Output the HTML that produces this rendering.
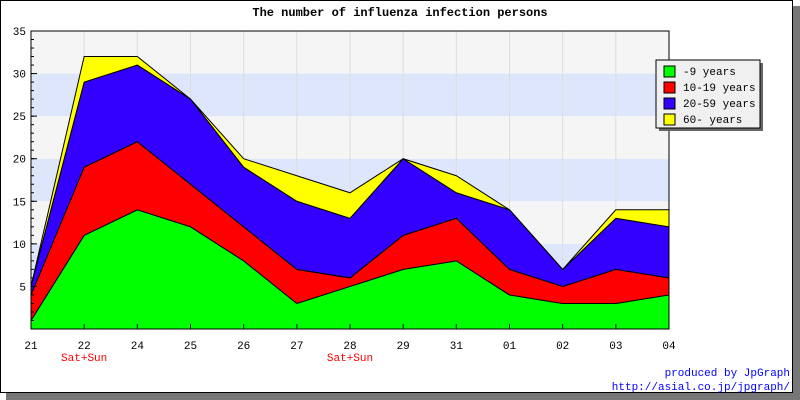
<!DOCTYPE html>
<html><head><meta charset="utf-8"><style>
body{margin:0;background:#fff}
svg{display:block;font-family:"Liberation Mono","DejaVu Sans Mono",monospace}
</style></head><body>
<svg width="800" height="400" id="c">
<rect x="6" y="6" width="794" height="394" fill="#777"/>
<rect x="0.5" y="0.5" width="792" height="392" fill="#fff" stroke="#000"/>
<text x="400" y="16" text-anchor="middle" font-size="12" font-weight="bold">The number of influenza infection persons</text>
<g id="bands"></g><g id="grid"></g><g id="areas"></g><g id="axes"></g>
<g>
<rect x="659" y="63" width="104" height="68" fill="#666"/>
<rect x="656" y="60" width="104" height="68" fill="#f0f0f0" stroke="#000"/>
<g id="leg"></g></g>
<text x="790" y="376" text-anchor="end" font-size="11" fill="#00f">produced by JpGraph</text>
<text x="790" y="390" text-anchor="end" font-size="11" fill="#00f">http://asial.co.jp/jpgraph/</text>
</svg>
<script>
const categories=["21","22","24","25","26","27","28","29","31","01","02","03","04"];
const subLabels=["","Sat+Sun","","","","","Sat+Sun","","","","","",""];
const green=[1,11,14,12,8,3,5,7,8,4,3,3,4];
const red=[3,8,8,5,4,4,1,4,5,3,2,4,2];
const blue=[1,10,9,10,7,8,7,9,3,7,2,6,6];
const yellow=[0,3,1,0,1,3,3,0,2,0,0,1,2];
const seriesNames=["-9 years","10-19 years","20-59 years","60- years"];
const yTicks=[5,10,15,20,25,30,35];
const L=31,R=669,T=31,B=329,YMAX=35;
const sx=i=>L+i*(R-L)/(categories.length-1);
const sy=v=>B-v*(B-T)/YMAX;
const NS="http://www.w3.org/2000/svg";
function mk(p,t,a){const e=document.createElementNS(NS,t);for(const k in a)e.setAttribute(k,a[k]);document.getElementById(p).appendChild(e);return e;}
for(let v=0;v<YMAX;v+=5){const b=mk("bands","rect",{x:L,y:sy(v+5),width:R-L,height:sy(v)-sy(v+5),fill:(v/5)%2?"#dde6fa":"#f5f5f5"});

}
categories.forEach((c,i)=>{const g=mk("grid","line",{x1:sx(i),x2:sx(i),y1:T,y2:B,stroke:"#ddd"});

});
const series=[green,red,blue,yellow],colors=["#00ff00","#ff0000","#3300ff","#ffff00"],names=["area-under-9","area-10-19","area-20-59","area-60-plus"];
let base=categories.map(()=>0);
series.forEach((s,k)=>{const top=base.map((b,i)=>b+s[i]);
let d=top.map((v,i)=>(i?"L":"M")+sx(i)+","+sy(v)).join("");
for(let i=categories.length-1;i>=0;i--)d+="L"+sx(i)+","+sy(base[i]);
const p=mk("areas","path",{d:d+"Z",fill:colors[k],stroke:"#000","stroke-width":1});


base=top;});
mk("axes","rect",{x:L,y:T,width:R-L,height:B-T,fill:"none",stroke:"#000"});
yTicks.forEach(v=>{const t=mk("axes","text",{x:L-5,y:sy(v)+4,"text-anchor":"end","font-size":11});t.textContent=v;


mk("axes","line",{x1:L,x2:L+6,y1:sy(v),y2:sy(v),stroke:"#000"});});
for(let v=1;v<YMAX;v++)mk("axes","line",{x1:L,x2:L+3,y1:sy(v),y2:sy(v),stroke:"#000"});
categories.forEach((c,i)=>{mk("axes","line",{x1:sx(i),x2:sx(i),y1:B,y2:B-5,stroke:"#000"});
const t=mk("axes","text",{x:sx(i),y:B+20,"text-anchor":"middle","font-size":11});t.textContent=c;


if(subLabels[i]){const s=mk("axes","text",{x:sx(i),y:B+32,"text-anchor":"middle","font-size":11,fill:"#f00"});s.textContent=subLabels[i];

}});
seriesNames.forEach((n,k)=>{const y=66+k*16;
const r=mk("leg","rect",{x:664,y:y,width:11,height:11,fill:colors[k],stroke:"#000"});


const t=mk("leg","text",{x:683,y:y+9,"font-size":11});t.textContent=n;

});
</script>
</body></html>
